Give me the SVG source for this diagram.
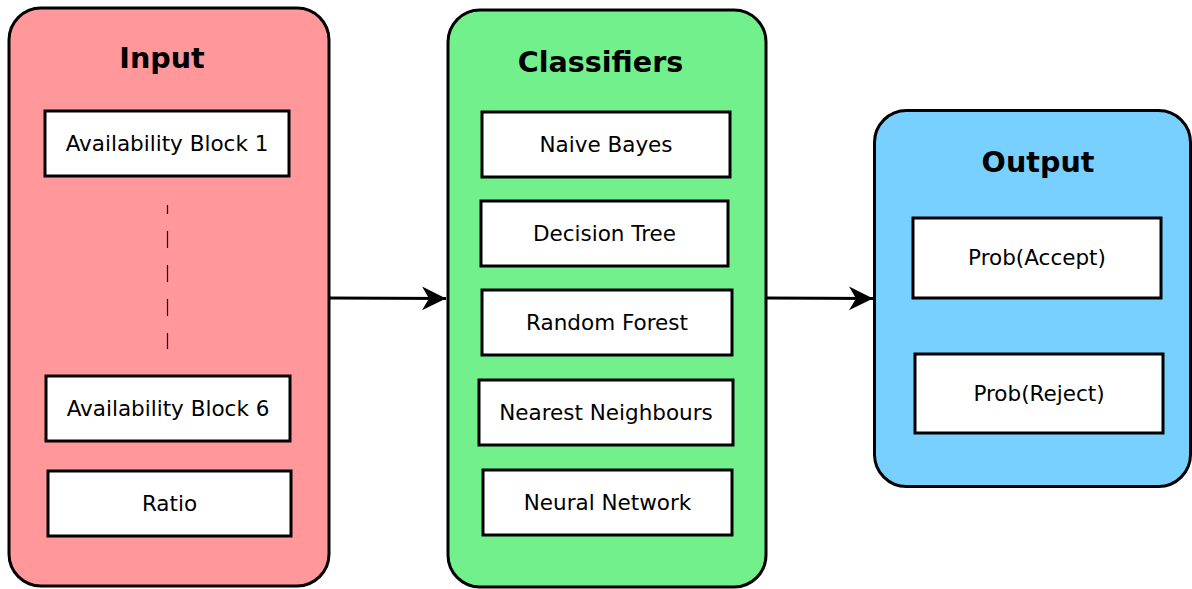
<svg xmlns="http://www.w3.org/2000/svg" width="1192" height="589" viewBox="0 0 1192 589">
<style>
.panel{stroke:#000;stroke-width:3}
.box{fill:#fff;stroke:#000;stroke-width:3}
.title{font-family:"DejaVu Sans",sans-serif;font-weight:bold;font-size:28.6px;text-anchor:middle;fill:#000}
.lbl{font-family:"DejaVu Sans",sans-serif;font-size:21.5px;text-anchor:middle;fill:#000}
.conn{stroke:#000;stroke-width:3;fill:none}
</style>
<defs>
<marker id="ah" markerUnits="userSpaceOnUse" markerWidth="26" markerHeight="26" viewBox="0 0 26 26" refX="24" refY="13" orient="auto">
<path d="M0,1 L24,13 L0,25 L7,13 Z" fill="#000"/>
</marker>
</defs>
<g id="input">
<rect class="panel" x="9" y="8" width="320" height="578" rx="32" fill="#ff979b"/>
<text class="title" x="162" y="68">Input</text>
<rect class="box" x="45" y="111" width="244" height="65"/>
<text class="lbl" x="167" y="151">Availability Block 1</text>
<line x1="167.5" y1="205" x2="167.5" y2="349" stroke="#000" stroke-width="1.2" stroke-dasharray="17 17" stroke-dashoffset="8"/>
<rect class="box" x="46" y="376" width="244" height="65"/>
<text class="lbl" x="168" y="416">Availability Block 6</text>
<rect class="box" x="48" y="471" width="243" height="65"/>
<text class="lbl" x="169.5" y="511">Ratio</text>
</g>
<g id="classifiers">
<rect class="panel" x="448" y="10" width="318" height="577" rx="32" fill="#72f08c"/>
<text class="title" x="600.5" y="72">Classifiers</text>
<rect class="box" x="482" y="112" width="248" height="65"/>
<text class="lbl" x="606" y="152">Naive Bayes</text>
<rect class="box" x="481" y="201" width="247" height="65"/>
<text class="lbl" x="604.5" y="241">Decision Tree</text>
<rect class="box" x="482" y="290" width="250" height="65"/>
<text class="lbl" x="607" y="330">Random Forest</text>
<rect class="box" x="479" y="380" width="254" height="65"/>
<text class="lbl" x="606" y="420">Nearest Neighbours</text>
<rect class="box" x="483" y="470" width="249" height="65"/>
<text class="lbl" x="607.5" y="510">Neural Network</text>
</g>
<g id="output">
<rect class="panel" x="874.5" y="110.5" width="316" height="376" rx="32" fill="#77d0ff"/>
<text class="title" x="1038" y="172">Output</text>
<rect class="box" x="913" y="218" width="248" height="80"/>
<text class="lbl" x="1037" y="265">Prob(Accept)</text>
<rect class="box" x="915" y="354" width="248" height="79"/>
<text class="lbl" x="1039" y="401">Prob(Reject)</text>
</g>
<g id="connectors">
<line class="conn" x1="329" y1="298" x2="446" y2="298.5" marker-end="url(#ah)"/>
<line class="conn" x1="767" y1="298" x2="873" y2="298.5" marker-end="url(#ah)"/>
</g>
</svg>
